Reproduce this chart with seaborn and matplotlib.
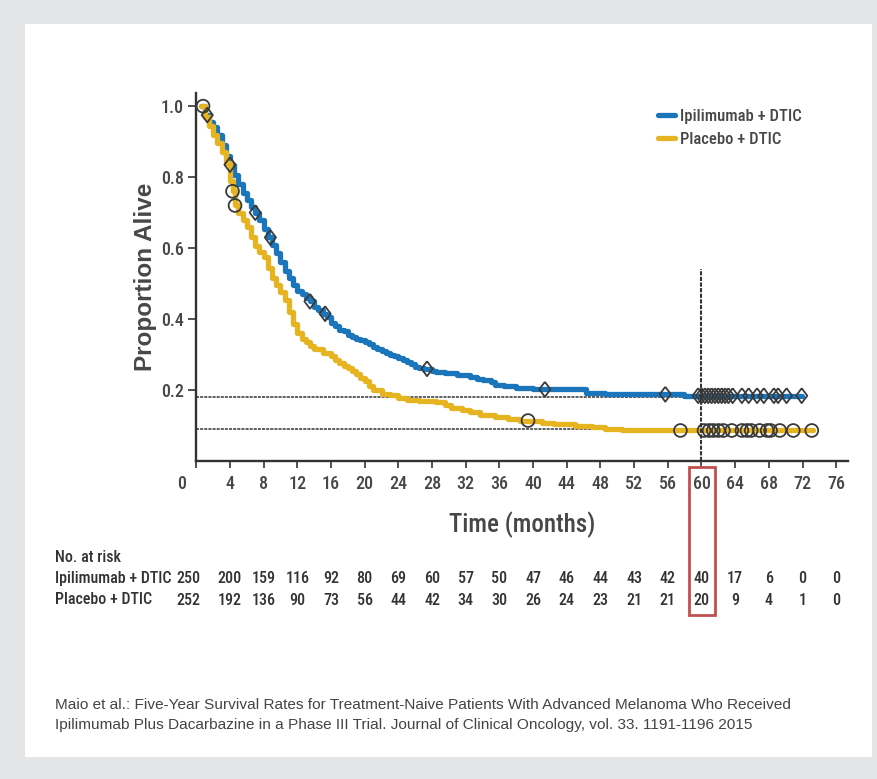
"""Kaplan-Meier overall survival, ipilimumab + DTIC vs placebo + DTIC."""

import matplotlib

matplotlib.use("Agg")
import matplotlib.pyplot as plt
import matplotlib.transforms as mtransforms
import numpy as np
import pandas as pd
import seaborn as sns
from matplotlib import font_manager as fm
from matplotlib.patches import Rectangle

ARMS = ["Ipilimumab + DTIC", "Placebo + DTIC"]

# step curve: (month, survival after the step)
IPI_T = [0.6, 1.0, 1.5, 2.0, 2.5, 3.0, 3.5, 4.0, 4.5, 5.0, 5.5, 6.0, 6.5, 7.0, 7.5,
         8.0, 8.5, 9.0, 9.5, 10.0, 10.5, 11.0, 11.5, 12.0, 12.5, 13.0, 13.5, 14.0,
         14.5, 15.0, 15.5, 16.0, 16.5, 17.0, 17.5, 18.0, 18.5, 19.0, 19.5, 20.0,
         20.5, 21.0, 21.5, 22.0, 22.5, 23.0, 23.5, 24.0, 24.5, 25.0, 25.5, 26.0,
         26.5, 27.0, 28.0, 28.5, 29.5, 31.0, 32.5, 33.3, 34.0, 35.0, 35.5, 36.5,
         38.0, 40.0, 46.3, 48.5, 57.9]
IPI_S = [1.0, 0.975, 0.955, 0.94, 0.92, 0.89, 0.86, 0.835, 0.805, 0.78, 0.755,
         0.735, 0.715, 0.70, 0.68, 0.655, 0.63, 0.61, 0.585, 0.56, 0.535, 0.515,
         0.495, 0.48, 0.47, 0.46, 0.45, 0.435, 0.425, 0.415, 0.405, 0.39, 0.38,
         0.37, 0.365, 0.355, 0.35, 0.345, 0.34, 0.335, 0.33, 0.32, 0.315, 0.31,
         0.305, 0.30, 0.295, 0.29, 0.285, 0.28, 0.272, 0.265, 0.262, 0.26, 0.255,
         0.25, 0.247, 0.242, 0.238, 0.232, 0.228, 0.222, 0.215, 0.21, 0.206,
         0.202, 0.192, 0.188, 0.184]
IPI_END = 71.9

PBO_T = [0.6, 1.0, 1.5, 2.0, 2.5, 3.0, 3.5, 4.0, 4.3, 4.6, 5.0, 5.5, 6.0, 6.5, 7.0,
         7.5, 8.0, 8.5, 9.0, 9.5, 10.0, 10.5, 11.0, 11.5, 12.0, 12.5, 13.0, 13.5,
         14.0, 15.0, 16.0, 16.5, 17.0, 17.5, 18.0, 18.5, 19.0, 19.5, 20.0, 20.5,
         21.0, 22.0, 23.0, 24.0, 25.0, 26.5, 28.5, 29.5, 30.3, 31.5, 32.5, 33.7,
         35.5, 37.0, 38.5, 41.0, 42.5, 45.0, 47.0, 48.5, 50.5]
PBO_S = [1.0, 0.97, 0.945, 0.92, 0.895, 0.87, 0.84, 0.79, 0.76, 0.72, 0.70, 0.68,
         0.66, 0.63, 0.605, 0.59, 0.575, 0.545, 0.515, 0.495, 0.475, 0.455, 0.42,
         0.385, 0.36, 0.345, 0.335, 0.325, 0.315, 0.305, 0.295, 0.285, 0.275,
         0.268, 0.262, 0.255, 0.245, 0.235, 0.225, 0.21, 0.20, 0.19, 0.185, 0.178,
         0.172, 0.17, 0.166, 0.158, 0.15, 0.145, 0.138, 0.13, 0.125, 0.118, 0.114,
         0.108, 0.104, 0.10, 0.095, 0.09, 0.086]
PBO_END = 73.3

IPI_CENSOR = [1.3, 4.0, 7.0, 8.8, 13.5, 15.3, 27.4, 41.4, 55.7, 59.6, 60.0, 60.4,
              60.8, 61.2, 61.6, 62.0, 62.4, 62.8, 63.2, 63.7, 64.8, 65.6, 66.6,
              67.4, 68.6, 69.1, 70.1, 71.9]
PBO_CENSOR = [0.8, 4.3, 4.6, 39.4, 57.5, 60.3, 60.9, 61.4, 62.0, 62.6, 63.6, 64.8,
              65.4, 65.9, 66.9, 67.8, 68.2, 69.3, 70.9, 73.1]

RISK_MONTHS = list(range(0, 77, 4))
IPI_RISK = [250, 200, 159, 116, 92, 80, 69, 60, 57, 50, 47, 46, 44, 43, 42, 40, 17, 6, 0, 0]
PBO_RISK = [252, 192, 136, 90, 73, 56, 44, 42, 34, 30, 26, 24, 23, 21, 21, 20, 9, 4, 1, 0]

LANDMARK = 60
LANDMARK_SURV = [0.18, 0.09]

CITATION = ("Maio et al.: Five-Year Survival Rates for Treatment-Naive Patients With "
            "Advanced Melanoma Who Received\nIpilimumab Plus Dacarbazine in a Phase III "
            "Trial. Journal of Clinical Oncology, vol. 33. 1191-1196 2015")

BLUE = "#1b75bb"
GOLD = "#e6b421"
INK = "#333333"
GREY = "#474747"


def narrow_font():
    """Pick a condensed sans face if one is installed."""
    names = {f.name for f in fm.fontManager.ttflist}
    for cand in ["Liberation Sans Narrow", "Roboto Condensed", "Arial Narrow",
                 "Open Sans Condensed", "DejaVu Sans Condensed"]:
        if cand in names:
            return {"family": [cand, "DejaVu Sans"]}
    return {"family": ["DejaVu Sans"], "stretch": "condensed"}


def steps(times, surv, end, arm):
    return pd.DataFrame({"month": list(times) + [end],
                         "surv": list(surv) + [surv[-1]], "arm": arm})


def surv_at(times, surv, pts):
    idx = np.searchsorted(times, pts, side="right") - 1
    return np.asarray(surv)[np.clip(idx, 0, None)]


def main() -> None:
    sns.set_style("ticks")
    nf = narrow_font()
    plt.rcParams["font.family"] = nf["family"]
    if "stretch" in nf:
        plt.rcParams["font.stretch"] = nf["stretch"]
    plt.rcParams["font.weight"] = "medium"

    fig = plt.figure(figsize=(8.78, 7.79), dpi=100)
    fig.patch.set_facecolor("#e4e5e7")
    fig.patches.append(Rectangle((25 / 878, 22 / 779), 847 / 878, 733 / 779,
                                 transform=fig.transFigure, facecolor="white",
                                 edgecolor="none", zorder=-10))

    ax = fig.add_axes([196.3 / 878, 318 / 779, 651.7 / 878, 368 / 779])
    ax.set_facecolor("none")

    curves = pd.concat([steps(IPI_T, IPI_S, IPI_END, ARMS[0]),
                        steps(PBO_T, PBO_S, PBO_END, ARMS[1])])
    sns.lineplot(data=curves, x="month", y="surv", hue="arm",
                 palette=[BLUE, GOLD], estimator=None, drawstyle="steps-post",
                 linewidth=3.8, ax=ax, zorder=3)

    diamond = [(0, 1), (0.75, 0), (0, -1), (-0.75, 0), (0, 1)]
    sns.scatterplot(x=IPI_CENSOR, y=surv_at(IPI_T, IPI_S, IPI_CENSOR),
                    marker=diamond, s=115, facecolors="none", edgecolor="#3a3a3a",
                    linewidth=1.3, ax=ax, zorder=4)
    sns.scatterplot(x=PBO_CENSOR, y=surv_at(PBO_T, PBO_S, PBO_CENSOR),
                    marker="o", s=85, facecolors="none", edgecolor="#3a3a3a",
                    linewidth=1.3, ax=ax, zorder=4)

    dash = (0, (2.0, 0.7))
    for s in LANDMARK_SURV:
        ax.plot([0, LANDMARK], [s, s], color=INK, lw=1.1, ls=dash, zorder=2)
    ax.plot([LANDMARK, LANDMARK], [0, 0.54], color=INK, lw=1.5, ls=dash, zorder=5)

    ax.set_xlim(0, 77.4)
    ax.set_ylim(0, 1.037)
    ax.set_xticks(RISK_MONTHS)
    ax.set_xticklabels([str(m) for m in RISK_MONTHS])
    ax.set_yticks([0.2, 0.4, 0.6, 0.8, 1.0])
    ax.set_yticklabels(["0.2", "0.4", "0.6", "0.8", "1.0"])
    ax.tick_params(axis="x", length=5, width=1.2, color=INK, pad=5,
                   labelsize=13, labelcolor=GREY)
    ax.tick_params(axis="y", length=6, width=1.2, color=INK, pad=3,
                   labelsize=13, labelcolor=GREY)
    first = ax.get_xticklabels()[0]
    first.set_transform(first.get_transform() + mtransforms.ScaledTranslation(
        -15 / 100, 0, fig.dpi_scale_trans))
    for side in ["left", "bottom"]:
        ax.spines[side].set_linewidth(1.7)
        ax.spines[side].set_color(INK)
    sns.despine(ax=ax)

    ax.set_xlabel("Time (months)", fontsize=18, fontweight="medium", color=GREY,
                  labelpad=13)
    ax.set_ylabel("Proportion Alive", fontsize=17.5, fontweight="bold",
                  color=GREY, family=["Liberation Sans", "DejaVu Sans"],
                  fontstretch="normal", labelpad=3)

    ax.legend(loc="upper left", bbox_to_anchor=(658 / 878, 1 - 109 / 779),
              bbox_transform=fig.transFigure, frameon=False, fontsize=12,
              handlelength=1.0, handletextpad=0.3, labelspacing=0.45,
              borderpad=0, borderaxespad=0)
    for txt in ax.get_legend().get_texts():
        txt.set_color(GREY)

    # number at risk table
    tr = ax.get_xaxis_transform()
    fig.text(55 / 878, 1 - 557 / 779, "No. at risk", fontsize=11.5, color=INK,
             va="center")
    for row, (arm, counts) in enumerate(zip(ARMS, [IPI_RISK, PBO_RISK])):
        y = -0.318 - row * 0.06
        fig.text(55 / 878, 1 - (578 + 22 * row) / 779, arm, fontsize=11.5,
                 color=INK, va="center")
        for m, n in zip(RISK_MONTHS, counts):
            xm = m - 0.9 if m == 0 else m
            ax.text(xm, y, str(n), transform=tr, ha="center", va="center",
                    fontsize=11.5, color=INK, clip_on=False)

    ax.add_patch(Rectangle((LANDMARK - 1.5, -0.418), 3.1, 0.402, transform=tr,
                           fill=False, edgecolor="#c0504d", lw=2, clip_on=False))

    fig.text(55 / 878, 1 - 715 / 779, CITATION, fontsize=11.1, color="#444444",
             family=["Liberation Sans", "DejaVu Sans"], fontstretch="normal",
             fontweight="normal", va="center", linespacing=1.5)

    fig.savefig("out.png", dpi=100, facecolor=fig.get_facecolor())
    plt.close(fig)


if __name__ == "__main__":
    main()
